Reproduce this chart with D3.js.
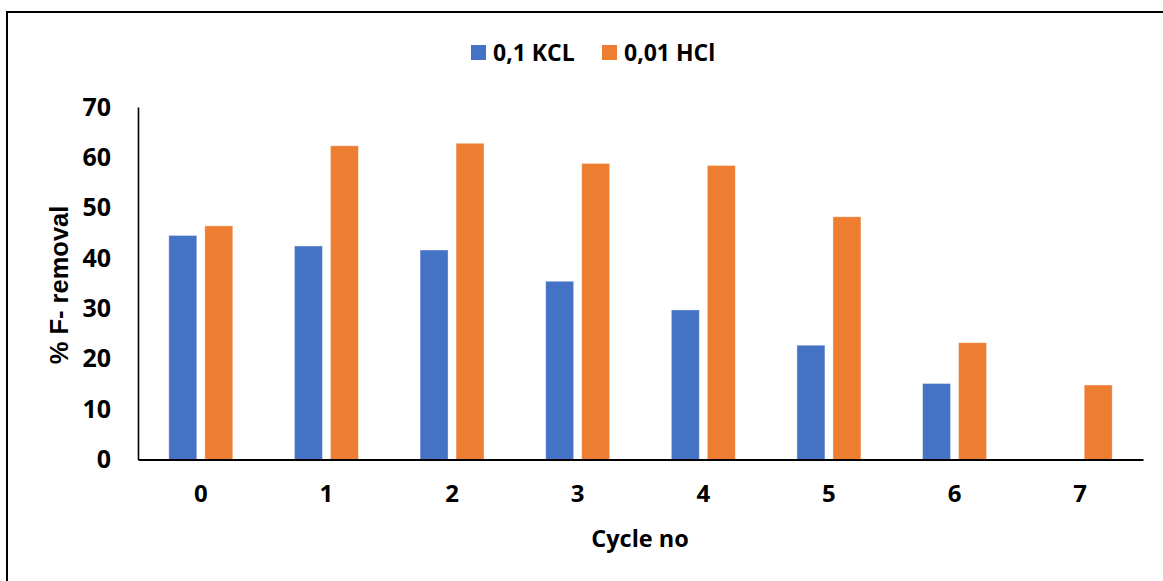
<!DOCTYPE html>
<html>
<head>
<meta charset="utf-8">
<script src="https://cdn.jsdelivr.net/npm/d3@7"></script>
<style>
  html, body { margin: 0; padding: 0; background: #fff; }
  svg { display: block; }
</style>
</head>
<body>
<script>
// Fluoride removal over regeneration cycles for two eluents
const cycles = ["0", "1", "2", "3", "4", "5", "6", "7"];
const seriesNames = ["0,1 KCL", "0,01 HCl"];
const kclValues = [44.5, 42.4, 41.6, 35.4, 29.7, 22.7, 15.1, 0];
const hclValues = [46.4, 62.3, 62.8, 58.8, 58.4, 48.2, 23.2, 14.8];
const yTicks = [0, 10, 20, 30, 40, 50, 60, 70];
const colors = ["#4472C4", "#ED7D31"];

const W = 1163, H = 581;
const svg = d3.select("body").append("svg").attr("width", W).attr("height", H);

// Outer chart frame
svg.append("rect")
  .attr("x", 7).attr("y", 12)
  .attr("width", W + 20).attr("height", H + 20)
  .attr("fill", "none").attr("stroke", "#000").attr("stroke-width", 2);

const plot = { left: 138, right: 1143, top: 107, bottom: 459.5 };

const x0 = d3.scaleBand().domain(cycles).range([plot.left, plot.right]).padding(0);
const groupWidth = 64;
const x1 = d3.scaleBand().domain(seriesNames).range([0, groupWidth]).paddingInner(0.222).paddingOuter(0);
const y = d3.scaleLinear().domain([0, 70]).range([plot.bottom, plot.top]);

const rows = cycles.map((c, i) => ({ cycle: c, values: [kclValues[i], hclValues[i]] }));

const labelFont = "'Open Sans', sans-serif";

// Bars
const groups = svg.append("g").selectAll("g")
  .data(rows).join("g")
  .attr("transform", d => `translate(${x0(d.cycle) + x0.bandwidth() / 2 - groupWidth / 2},0)`);

groups.selectAll("rect")
  .data(d => d.values.map((v, k) => ({ name: seriesNames[k], value: v, k })))
  .join("rect")
  .filter(d => d.value > 0)
  .attr("x", d => x1(d.name))
  .attr("width", x1.bandwidth())
  .attr("y", d => y(d.value))
  .attr("height", d => y(0) - y(d.value))
  .attr("fill", d => colors[d.k])
  .attr("stroke", "rgba(255,255,255,0.5)")
  .attr("stroke-width", 0.8);

// Y axis
const yAxis = svg.append("g")
  .attr("transform", `translate(${plot.left},0)`)
  .call(d3.axisLeft(y).tickValues(yTicks).tickSize(0).tickPadding(27).tickFormat(d3.format("d")));
yAxis.select(".domain").attr("stroke", "#000").attr("stroke-width", 1.6);
yAxis.selectAll("text")
  .attr("font-family", labelFont)
  .attr("font-weight", "bold")
  .attr("font-size", 25)
  .attr("fill", "#000");

// X axis
const xAxis = svg.append("g")
  .attr("transform", `translate(0,${plot.bottom})`)
  .call(d3.axisBottom(x0).tickSize(0).tickPadding(25));
xAxis.select(".domain").attr("stroke", "#000").attr("stroke-width", 2);
xAxis.selectAll("text")
  .attr("font-family", labelFont)
  .attr("font-weight", "bold")
  .attr("font-size", 24)
  .attr("fill", "#000");

// Axis titles
svg.append("text")
  .attr("x", 640).attr("y", 547)
  .attr("text-anchor", "middle")
  .attr("font-family", labelFont)
  .attr("font-weight", "bold")
  .attr("font-size", 23.5)
  .text("Cycle no");

svg.append("text")
  .attr("transform", "translate(68,285) rotate(-90)")
  .attr("text-anchor", "middle")
  .attr("font-family", "'Liberation Sans', Arial, sans-serif")
  .attr("font-weight", "bold")
  .attr("font-size", 25.5)
  .text("% F- removal");

// Legend
const legendItems = [
  { name: seriesNames[0], color: colors[0], x: 471 },
  { name: seriesNames[1], color: colors[1], x: 602 }
];
const legend = svg.append("g").selectAll("g").data(legendItems).join("g")
  .attr("transform", d => `translate(${d.x},45)`);
legend.append("rect").attr("width", 15).attr("height", 15).attr("fill", d => d.color);
legend.append("text")
  .attr("x", 22).attr("y", 15.5)
  .attr("font-family", labelFont)
  .attr("font-weight", "bold")
  .attr("font-size", 23)
  .text(d => d.name);
</script>
</body>
</html>
